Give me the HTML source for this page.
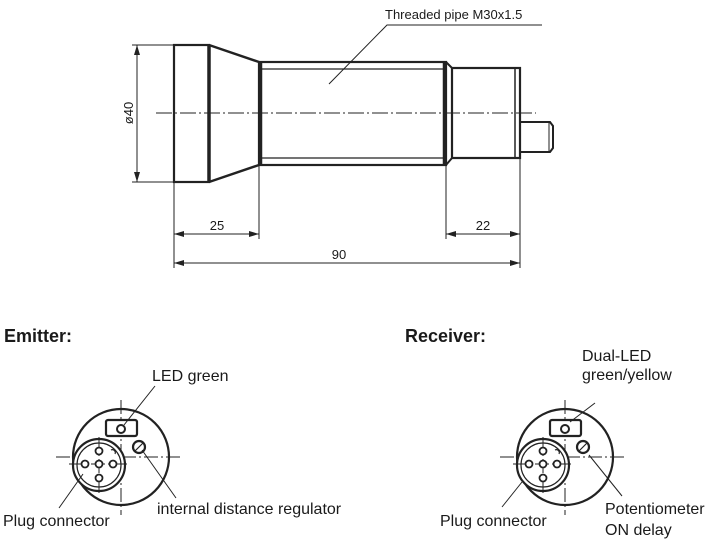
<!DOCTYPE html>
<html><head><meta charset="utf-8"><style>
html,body{margin:0;padding:0;background:#fff;}
svg{display:block;}
text{font-family:"Liberation Sans",Arial,sans-serif;fill:#1a1a1a;}
</style></head><body>
<svg width="719" height="560" viewBox="0 0 719 560" xmlns="http://www.w3.org/2000/svg">
<defs>
<marker id="a" viewBox="0 0 10 6" refX="10" refY="3" markerWidth="10" markerHeight="6" orient="auto-start-reverse" markerUnits="userSpaceOnUse"><path d="M0,0 L10,3 L0,6z" fill="#222"/></marker>
<g id="face">
  <circle cx="0" cy="0" r="48" fill="none" stroke="#222" stroke-width="2.2"/>
  <g stroke="#222" stroke-width="1" stroke-dasharray="14,3,2,3">
    <line x1="0" y1="-57" x2="0" y2="58"/>
    <line x1="-65" y1="0" x2="61" y2="0"/>
  </g>
  <rect x="-15" y="-37" width="31" height="16" rx="2" fill="#fff" stroke="#222" stroke-width="2.2"/>
  <circle cx="0" cy="-28" r="4" fill="#fff" stroke="#222" stroke-width="2"/>
  <circle cx="18" cy="-10" r="6" fill="#fff" stroke="#222" stroke-width="2.2"/>
  <line x1="14" y1="-6" x2="22" y2="-14" stroke="#222" stroke-width="1.2"/>
  <circle cx="-22" cy="8" r="26" fill="#fff" stroke="#222" stroke-width="2.2"/>
  <circle cx="-22" cy="8" r="22" fill="none" stroke="#222" stroke-width="1.2"/>
  <g stroke="#222" stroke-width="1" stroke-dasharray="14,3,2,3">
    <line x1="-22" y1="-20" x2="-22" y2="36"/>
    <line x1="-52" y1="7" x2="7" y2="7"/>
  </g>
  <g fill="#fff" stroke="#222" stroke-width="1.8">
    <circle cx="-22" cy="-6" r="3.5"/><circle cx="-22" cy="21" r="3.5"/>
    <circle cx="-36" cy="7" r="3.5"/><circle cx="-8" cy="7" r="3.5"/><circle cx="-22" cy="7" r="3.5"/>
  </g>
  <path d="M-10,-7 a3,3 0 0 1 4,4" fill="none" stroke="#222" stroke-width="1.2"/>
</g>
</defs>

<g stroke="#222" fill="none">
  <rect x="174" y="45" width="35" height="137" stroke-width="2.2"/>
  <line x1="209" y1="45" x2="209" y2="182" stroke-width="3.5"/>
  <path d="M209,45 L259,62 M209,182 L259,165" stroke-width="2.5"/>
  <rect x="259" y="62" width="187" height="103" stroke-width="2.2"/>
  <line x1="261" y1="62" x2="261" y2="165" stroke-width="2.5"/>
  <line x1="444" y1="62" x2="444" y2="165" stroke-width="2.5"/>
  <line x1="261" y1="69" x2="446" y2="69" stroke-width="1.2"/>
  <line x1="261" y1="158" x2="446" y2="158" stroke-width="1.2"/>
  <path d="M446,62 L452,68 M446,165 L452,158" stroke-width="2"/>
  <rect x="452" y="68" width="68" height="90" stroke-width="2.2"/>
  <line x1="515" y1="68" x2="515" y2="158" stroke-width="1.5"/>
  <path d="M520,122 L550,122 L553,126 L553,148 L550,152 L520,152" stroke-width="2"/>
  <line x1="549" y1="122" x2="549" y2="152" stroke-width="1"/>
  <line x1="156" y1="113" x2="536" y2="113" stroke-width="1" stroke-dasharray="16,3,2,3"/>
  <path d="M329,84 L387,25 L542,25" stroke-width="1"/>
  <g stroke-width="1">
    <line x1="132" y1="45" x2="174" y2="45"/>
    <line x1="132" y1="182" x2="174" y2="182"/>
    <line x1="137" y1="45" x2="137" y2="182" marker-start="url(#a)" marker-end="url(#a)"/>
    <line x1="174" y1="182" x2="174" y2="268"/>
    <line x1="259" y1="165" x2="259" y2="239"/>
    <line x1="446" y1="165" x2="446" y2="239"/>
    <line x1="520" y1="158" x2="520" y2="268"/>
    <line x1="174" y1="234" x2="259" y2="234" marker-start="url(#a)" marker-end="url(#a)"/>
    <line x1="446" y1="234" x2="520" y2="234" marker-start="url(#a)" marker-end="url(#a)"/>
    <line x1="174" y1="263" x2="520" y2="263" marker-start="url(#a)" marker-end="url(#a)"/>
  </g>
</g>
<text x="385" y="19" font-size="13">Threaded pipe M30x1.5</text>
<text x="133" y="113" font-size="13" text-anchor="middle" transform="rotate(-90 133 113)">ø40</text>
<text x="217" y="230" font-size="13" text-anchor="middle">25</text>
<text x="483" y="230" font-size="13" text-anchor="middle">22</text>
<text x="339" y="259" font-size="13" text-anchor="middle">90</text>

<text x="4" y="342" font-size="18" font-weight="bold">Emitter:</text>
<use href="#face" x="121" y="457"/>
<g stroke="#222" stroke-width="1" fill="none">
  <line x1="155" y1="386" x2="124" y2="425"/>
  <line x1="142" y1="450" x2="176" y2="498"/>
  <line x1="83" y1="474" x2="59" y2="508"/>
</g>
<text x="152" y="381" font-size="16">LED green</text>
<text x="157" y="514" font-size="16">internal distance regulator</text>
<text x="3" y="526" font-size="16">Plug connector</text>

<text x="405" y="342" font-size="18" font-weight="bold">Receiver:</text>
<use href="#face" x="565" y="457"/>
<g stroke="#222" stroke-width="1" fill="none">
  <line x1="595" y1="403" x2="570" y2="422"/>
  <line x1="589" y1="455" x2="622" y2="496"/>
  <line x1="522" y1="482" x2="502" y2="507"/>
</g>
<text x="582" y="361" font-size="16">Dual-LED</text>
<text x="582" y="380" font-size="16">green/yellow</text>
<text x="605" y="514" font-size="16">Potentiometer</text>
<text x="605" y="535" font-size="16">ON delay</text>
<text x="440" y="526" font-size="16">Plug connector</text>
</svg>
</body></html>
